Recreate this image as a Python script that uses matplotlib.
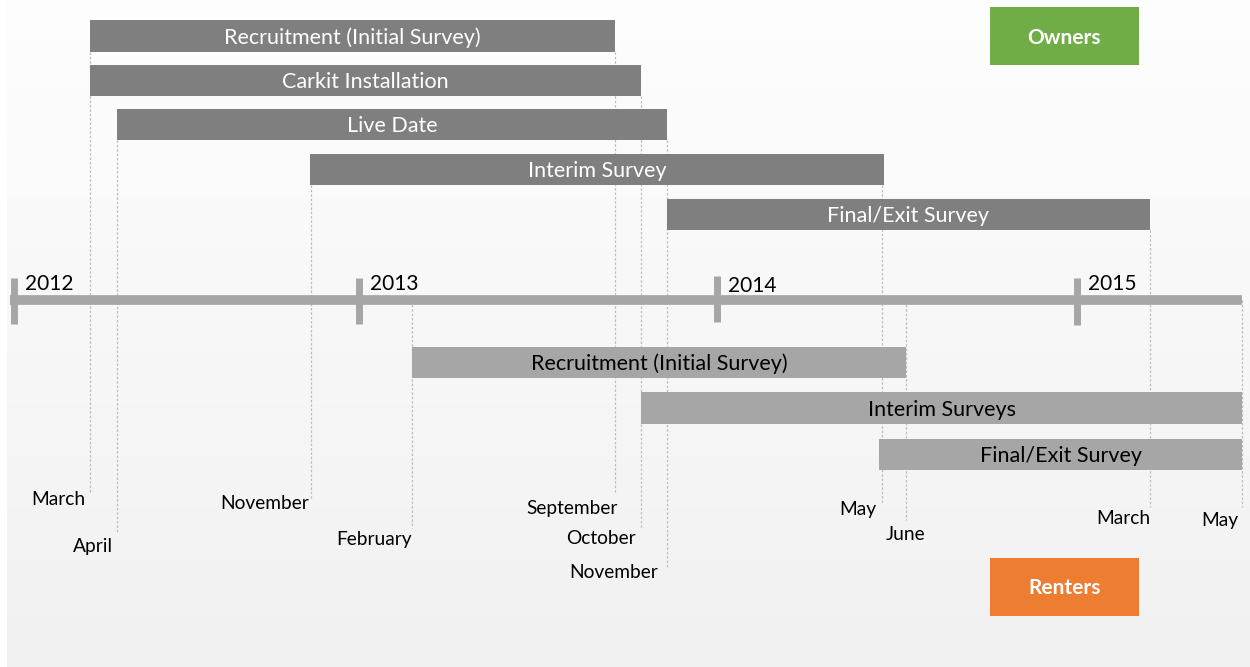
import numpy as np
import matplotlib
matplotlib.use("Agg")
import matplotlib.pyplot as plt

# time is in months counted from January 2012
owner_tasks = ["Recruitment (Initial Survey)", "Carkit Installation", "Live Date",
               "Interim Survey", "Final/Exit Survey"]
owner_start = [2.57, 2.57, 3.49, 10.02, 22.11]
owner_end = [20.35, 21.23, 22.11, 29.46, 38.47]

renter_tasks = ["Recruitment (Initial Survey)", "Interim Surveys", "Final/Exit Survey"]
renter_start = [13.48, 21.23, 29.3]
renter_end = [30.2, 41.6, 41.6]

years = ["2012", "2013", "2014", "2015"]
year_pos = [0.0, 11.68, 23.81, 36.0]

month_labels = ["March", "April", "November", "February", "September", "October",
                "November", "May", "June", "March", "May"]
month_pos = [2.57, 3.49, 10.05, 13.48, 20.35, 21.23, 22.11, 29.4, 30.2, 38.47, 41.6]

# layout (pixel rows, y grows downward)
PX = 29.53  # pixels per month
TY = 1.5    # small downward nudge for text centring
owner_rows = [36, 80.5, 124.5, 169.5, 214.5]
renter_rows = [362.5, 408, 454.5]
bar_h = 31.5
line_top = [52, 140, 185, 300, 52, 96, 140, 185, 300, 230, 300]
line_bot = [492, 533, 498, 528, 493, 528, 567, 503, 520, 507, 507]
label_y = [498, 545, 502, 538, 507, 537, 571, 508, 533, 517, 519]
label_dx = [-5, -4, -2, 0, 3, -5, -9, -6, 0, 0, -4]
label_ha = ["right"] * 8 + ["center"] + ["right"] * 2
year_y = [283, 283, 285, 283]
tick_span = [(278, 324), (278, 324), (276, 322), (278, 325)]
axis_y = 299.5

plt.rcParams['font.family'] = ['Lato', 'DejaVu Sans']

fig = plt.figure(figsize=(12.5, 6.67), dpi=100)
ax = fig.add_axes([0, 0, 1, 1])
x0 = -14 / PX
ax.set_xlim(x0, x0 + 1250 / PX)
ax.set_ylim(667, 0)
ax.axis("off")

# background gradient
grad = np.linspace(0.995, 0.945, 200).reshape(-1, 1)
ax.imshow(np.dstack([grad, grad, grad]), aspect="auto", zorder=0,
          extent=[x0 + 7 / PX, x0 + 1250 / PX, 667, 0])

# dashed guide lines and month labels
for i, lab in enumerate(month_labels):
    ax.plot([month_pos[i], month_pos[i]], [line_top[i], line_bot[i]],
            color="#bdbdbd", lw=0.9, ls=(0, (2, 1.5)), zorder=1)
    ax.text(month_pos[i] + label_dx[i] / PX, label_y[i] + TY, lab, ha=label_ha[i],
            va="center", fontsize=13.8, color="black", zorder=4)

# time axis
ax.plot([x0 + 10 / PX, 41.6], [axis_y, axis_y], color="#a6a6a6", lw=7,
        solid_capstyle="butt", zorder=2)
for i, yr in enumerate(years):
    ax.plot([year_pos[i], year_pos[i]], tick_span[i], color="#a6a6a6", lw=5,
            solid_capstyle="butt", zorder=2)
    ax.text(year_pos[i] + 11 / PX, year_y[i] + TY, yr, ha="left", va="center",
            fontsize=15, color="black", zorder=4)

# owner bars
for i, t in enumerate(owner_tasks):
    ax.barh(owner_rows[i], owner_end[i] - owner_start[i], left=owner_start[i],
            height=bar_h, color="#7f7f7f", zorder=3)
    ax.text((owner_start[i] + owner_end[i]) / 2, owner_rows[i] + TY, t, ha="center",
            va="center", fontsize=15.5, color="white", zorder=4)

# renter bars
for i, t in enumerate(renter_tasks):
    ax.barh(renter_rows[i], renter_end[i] - renter_start[i], left=renter_start[i],
            height=bar_h, color="#a6a6a6", zorder=3)
    ax.text((renter_start[i] + renter_end[i]) / 2, renter_rows[i] + TY, t, ha="center",
            va="center", fontsize=15.5, color="black", zorder=4)

# group boxes
bx0 = x0 + 990 / PX
bw = 149 / PX
ax.barh(36, bw, left=bx0, height=58, color="#70ad47", zorder=3)
ax.text(bx0 + bw / 2, 36 + TY, "Owners", ha="center", va="center", fontsize=15,
        fontweight="bold", color="white", zorder=4)
ax.barh(587, bw, left=bx0, height=58, color="#ed7d31", zorder=3)
ax.text(bx0 + bw / 2, 587 + TY, "Renters", ha="center", va="center", fontsize=15,
        fontweight="bold", color="white", zorder=4)

fig.savefig("out.png", dpi=100)
